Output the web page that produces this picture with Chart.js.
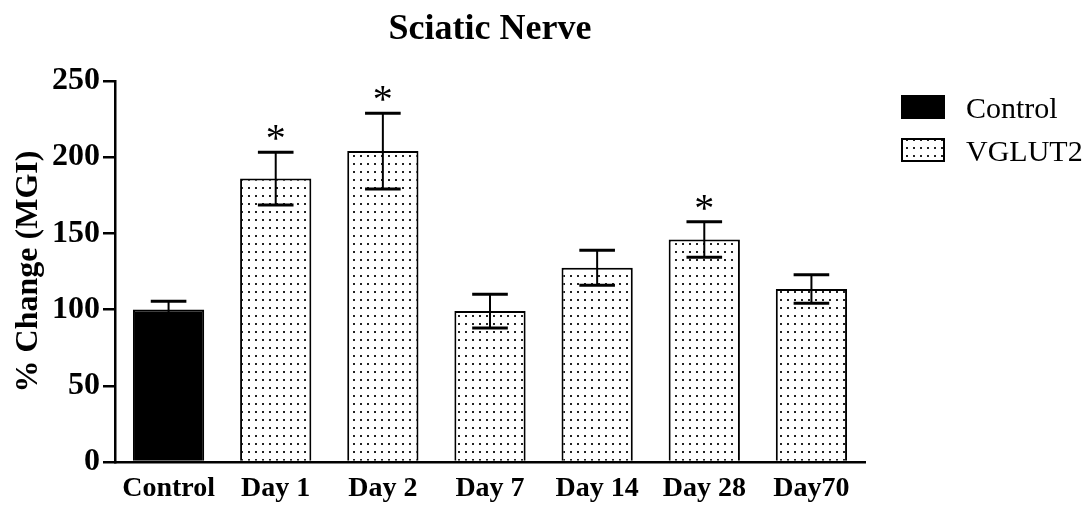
<!DOCTYPE html>
<html>
<head>
<meta charset="utf-8">
<script src="https://cdn.jsdelivr.net/npm/chart.js@4.4.1/dist/chart.umd.min.js"></script>
<style>
  html, body { margin: 0; padding: 0; background: #fff; }
  #wrap { width: 1090px; height: 508px; }
</style>
</head>
<body>
<div id="wrap"><canvas id="nerveChart" width="1090" height="508"></canvas></div>
<script>
// data
const categories = ['Control', 'Day 1', 'Day 2', 'Day 7', 'Day 14', 'Day 28', 'Day70'];
const controlMean = [100, null, null, null, null, null, null];
const controlSem = [5.5, null, null, null, null, null, null];
const vglutMean = [null, 186, 204, 99, 127.5, 146, 113.5];
const vglutSem = [null, 17.3, 24.8, 11, 11.5, 11.7, 9.3];
const significant = [false, true, true, false, false, true, false];
const yTicks = [0, 50, 100, 150, 200, 250];

const serif = "'Liberation Serif', 'Times New Roman', serif";

// dotted fill
function makeDots() {
    const c = document.createElement('canvas');
    c.width = 7;
    c.height = 8;
    const g = c.getContext('2d');
    g.fillStyle = '#fff';
    g.fillRect(0, 0, 7, 8);
    g.fillStyle = '#222';
    g.fillRect(3, 3, 2, 2);
    return g.createPattern(c, 'repeat');
}
const ctx = document.getElementById('nerveChart').getContext('2d');
const dots = makeDots();

// error bars + asterisks
const errorBars = {
    id: 'errorBars',
    afterDatasetsDraw(chart) {
        const c = chart.ctx;
        const y = chart.scales.y;
        const sems = [controlSem, vglutSem];
        c.save();
        c.strokeStyle = '#000';
        chart.data.datasets.forEach((ds, di) => {
            const meta = chart.getDatasetMeta(di);
            meta.data.forEach((bar, i) => {
                const v = ds.data[i];
                if (v == null) return;
                const e = sems[di][i];
                const hw = bar.width / 4;
                const top = y.getPixelForValue(v + e);
                const bot = y.getPixelForValue(v - e);
                c.lineWidth = 2;
                c.beginPath();
                c.moveTo(bar.x, top);
                c.lineTo(bar.x, bot);
                c.stroke();
                c.lineWidth = 3;
                c.beginPath();
                c.moveTo(bar.x - hw, top);
                c.lineTo(bar.x + hw, top);
                c.moveTo(bar.x - hw, bot);
                c.lineTo(bar.x + hw, bot);
                c.stroke();
                if (significant[i]) {
                    c.fillStyle = '#000';
                    c.font = '40px ' + serif;
                    c.textAlign = 'center';
                    c.textBaseline = 'alphabetic';
                    c.fillText('*', bar.x, top - 1);
                }
            });
        });
        c.restore();
    }
};

// title and legend
const decorations = {
    id: 'decorations',
    afterDraw(chart) {
        const c = chart.ctx;
        const area = chart.chartArea;
        c.save();
        c.fillStyle = '#000';
        c.font = 'bold 36px ' + serif;
        c.textAlign = 'center';
        c.textBaseline = 'alphabetic';
        c.fillText('Sciatic Nerve', (area.left + area.right) / 2, 39);

        const items = [
            { label: 'Control', fill: '#000', y: 96 },
            { label: 'VGLUT2', fill: dots, y: 139 }
        ];
        c.font = '30px ' + serif;
        c.textAlign = 'left';
        items.forEach(it => {
            c.fillStyle = it.fill;
            c.fillRect(902, it.y, 42, 22);
            c.strokeStyle = '#000';
            c.lineWidth = 2;
            c.strokeRect(902, it.y, 42, 22);
            c.fillStyle = '#000';
            c.fillText(it.label, 966, it.y + 22);
        });
        c.restore();
    }
};

const nerveChart = new Chart(ctx, {
    type: 'bar',
    data: {
        labels: categories,
        datasets: [
            {
                label: 'Control',
                data: controlMean,
                backgroundColor: '#000',
                borderColor: '#000',
                borderWidth: 2,
                grouped: false
            },
            {
                label: 'VGLUT2',
                data: vglutMean,
                backgroundColor: dots,
                borderColor: '#000',
                borderWidth: 2,
                grouped: false
            }
        ]
    },
    options: {
        responsive: false,
        animation: false,
        categoryPercentage: 1,
        barPercentage: 0.665,
        layout: {
            padding: { left: 0, top: 81, right: 225, bottom: 0 }
        },
        plugins: {
            legend: { display: false },
            tooltip: { enabled: false },
            title: { display: false }
        },
        scales: {
            x: {
                grid: { display: false, drawTicks: false },
                border: { display: true, color: '#000', width: 2.5 },
                ticks: {
                    color: '#000',
                    padding: 10,
                    font: { family: serif, size: 28, weight: 'bold' }
                },
                afterFit(scale) { scale.height = 46; }
            },
            y: {
                min: 0,
                max: 250,
                afterBuildTicks(scale) {
                    scale.ticks = yTicks.map(v => ({ value: v }));
                },
                grid: {
                    drawOnChartArea: false,
                    color: '#000',
                    lineWidth: 2.5,
                    tickLength: 12
                },
                border: { display: true, color: '#000', width: 2.5 },
                ticks: {
                    color: '#000',
                    padding: 3,
                    font: { family: serif, size: 32, weight: 'bold' }
                },
                title: {
                    display: true,
                    text: '% Change (MGI)',
                    color: '#000',
                    padding: { top: 10, bottom: 0 },
                    font: { family: serif, size: 32, weight: 'bold' }
                },
                afterFit(scale) { scale.width = 115; }
            }
        }
    },
    plugins: [errorBars, decorations]
});
</script>
</body>
</html>
